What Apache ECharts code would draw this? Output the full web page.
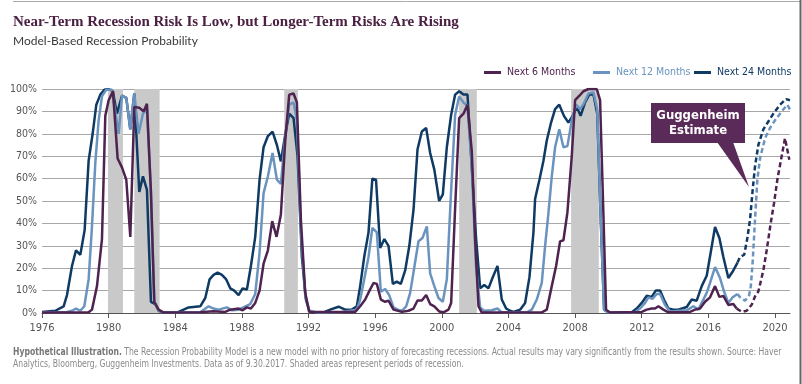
<!DOCTYPE html>
<html>
<head>
<meta charset="utf-8">
<script src="https://cdn.jsdelivr.net/npm/echarts@6/dist/echarts.min.js"></script>
<style>html,body{margin:0;padding:0;background:#fff;}#c{width:802px;height:384px;}</style>
</head>
<body>
<div id="c"></div>
<script>
// ---- data (year, probability %) ----
const tickYears = [1976,1980,1984,1988,1992,1996,2000,2004,2008,2012,2016,2020];
const recessions = [[1979.96,1980.86],[1981.54,1983.06],[1990.54,1991.36],[2001.04,2002.1],[2007.76,2009.42]];

const next24 = [[1976.0,0.5],[1976.8,1],[1977.3,3],[1977.5,8],[1977.8,21],[1978.04,28],[1978.3,26],[1978.56,37],[1978.8,68],[1979.04,80],[1979.26,93],[1979.5,97.5],[1979.74,99.7],[1980.0,100],[1980.25,99],[1980.5,89],[1980.8,97],[1981.06,96],[1981.3,82],[1981.54,98],[1981.84,54],[1982.06,61],[1982.3,55],[1982.54,5],[1982.8,4],[1983.0,1],[1983.3,0.2],[1984.1,0.2],[1984.5,1.5],[1984.8,2.5],[1985.5,3],[1985.8,6.7],[1986.06,15],[1986.3,17],[1986.54,18],[1986.8,17],[1987.06,15],[1987.3,11],[1987.54,10],[1987.8,8],[1988.04,11],[1988.3,10.5],[1988.54,21],[1988.8,34],[1989.06,59.5],[1989.3,74],[1989.56,79],[1989.84,81],[1990.1,75],[1990.34,67.7],[1990.6,79.6],[1990.84,89],[1991.1,87],[1991.34,70],[1991.6,25],[1991.84,6],[1992.04,1],[1992.3,0.2],[1992.9,0.3],[1993.3,1.5],[1993.8,2.8],[1994.2,1.5],[1994.6,1.5],[1994.9,3],[1995.1,12],[1995.34,25],[1995.6,36],[1995.83,60],[1996.05,59.5],[1996.3,29],[1996.55,33],[1996.8,30],[1997.06,13],[1997.3,14],[1997.54,13],[1997.8,19],[1998.05,30],[1998.3,46],[1998.54,73],[1998.8,81],[1999.06,82.6],[1999.3,71.4],[1999.55,64],[1999.84,50],[2000.06,53],[2000.3,74],[2000.56,88.5],[2000.8,97.5],[2001.04,99],[2001.3,97.5],[2001.54,97.5],[2001.8,65],[2002.05,34],[2002.3,11],[2002.54,12.5],[2002.8,11],[2003.04,15.6],[2003.34,21],[2003.6,6],[2003.86,2],[2004.1,1],[2004.3,0.5],[2004.7,1.5],[2005.0,4.5],[2005.26,16],[2005.5,36],[2005.6,51],[2005.86,59.5],[2006.1,68],[2006.3,77],[2006.54,84.5],[2006.8,91],[2007.05,93],[2007.33,88],[2007.6,85],[2007.85,88],[2008.1,92],[2008.33,88],[2008.6,94],[2008.85,97.5],[2009.1,97.5],[2009.33,89],[2009.53,44],[2009.74,1.5],[2010.0,0.2],[2011.4,0.3],[2011.7,2],[2012.0,4.5],[2012.3,7.7],[2012.6,7.2],[2012.84,10],[2013.1,10],[2013.33,6],[2013.6,2],[2013.9,1.5],[2014.2,1.5],[2014.7,2.7],[2015.0,6],[2015.3,5.5],[2015.6,12],[2015.9,16.6],[2016.14,27],[2016.4,38.4],[2016.66,33.5],[2016.9,25],[2017.2,15.6],[2017.5,19],[2017.75,22.5]];
const next24Est = [[2017.75,22.5],[2017.9,25],[2018.15,26],[2018.33,33],[2018.5,41.6],[2018.66,55],[2018.8,65.5],[2019.0,75],[2019.3,82],[2019.6,85.5],[2019.9,89],[2020.3,93],[2020.66,95.5],[2020.9,95]];

const next12 = [[1976.0,0.3],[1977.5,0.5],[1977.8,1],[1978.04,2],[1978.3,1],[1978.54,3],[1978.8,15],[1979.0,38.7],[1979.2,67],[1979.4,86],[1979.6,96.7],[1979.86,99.7],[1980.2,99.7],[1980.6,80],[1980.8,97],[1981.06,96],[1981.3,82],[1981.54,98],[1981.8,80],[1982.06,89],[1982.3,91],[1982.54,54],[1982.74,5],[1983.0,1],[1983.3,0.2],[1985.5,0.3],[1986.0,3],[1986.3,2],[1986.6,1.5],[1987.1,2.5],[1987.4,1.2],[1987.8,1.5],[1988.5,4],[1988.8,8.5],[1989.06,27],[1989.3,53.5],[1989.56,61],[1989.84,71.4],[1990.1,59.5],[1990.34,57.6],[1990.6,79],[1990.84,93],[1991.1,94],[1991.3,86],[1991.54,37],[1991.8,8],[1992.04,1],[1992.5,0.2],[1994.0,0.5],[1994.9,1.5],[1995.1,6],[1995.34,15],[1995.6,25],[1995.83,38],[1996.1,36],[1996.34,9.5],[1996.6,10.7],[1996.84,8],[1997.1,2.5],[1997.35,1.5],[1997.6,1],[1997.86,3],[1998.1,9],[1998.36,21],[1998.6,32],[1998.84,33.5],[1999.1,38.7],[1999.3,17.7],[1999.55,12],[1999.8,6.7],[2000.06,5],[2000.3,15],[2000.54,52],[2000.8,88.5],[2001.04,96.7],[2001.3,94],[2001.54,92.5],[2001.8,65],[2002.05,21],[2002.3,2.5],[2002.54,1],[2003.0,1.2],[2003.34,2],[2003.6,0.3],[2005.1,0.3],[2005.4,1.5],[2005.7,6],[2006.0,13.4],[2006.2,30],[2006.4,44.6],[2006.6,61],[2006.8,74],[2007.05,82],[2007.3,74],[2007.54,74.5],[2007.8,86],[2008.06,93],[2008.3,91],[2008.54,93.7],[2008.8,98],[2009.1,98.5],[2009.33,91],[2009.53,44],[2009.74,1.5],[2010.0,0.2],[2011.6,0.3],[2011.9,2],[2012.2,4.5],[2012.4,7],[2012.64,6.3],[2012.9,8.5],[2013.1,8.5],[2013.4,3.6],[2013.7,0.7],[2014.7,1.2],[2015.1,3],[2015.4,1.5],[2015.6,4.5],[2015.9,9],[2016.1,13.4],[2016.4,20.5],[2016.7,15.6],[2016.94,9.6],[2017.2,4.5],[2017.46,7],[2017.75,8.5]];
const next12Est = [[2017.75,8.5],[2017.9,7],[2018.2,5.5],[2018.45,8],[2018.55,12],[2018.66,23],[2018.8,41.6],[2018.94,59.5],[2019.1,69],[2019.4,78],[2019.7,82.6],[2020.0,86],[2020.4,90],[2020.74,93],[2020.9,90.8]];

const next6 = [[1976.0,0.2],[1978.8,0.3],[1979.0,1.5],[1979.3,12],[1979.6,33],[1979.8,88],[1980.0,95],[1980.26,99],[1980.54,69],[1980.8,65],[1981.06,59.5],[1981.3,34],[1981.54,92],[1981.84,91.6],[1982.1,90],[1982.3,93.4],[1982.54,53.7],[1982.74,5],[1983.0,1.5],[1983.3,0.2],[1985.5,0.3],[1986.3,0.8],[1987.0,0.5],[1987.3,1.5],[1987.8,2],[1988.04,1.2],[1988.3,2.5],[1988.54,2],[1988.8,4.5],[1989.06,10],[1989.3,22],[1989.56,28],[1989.82,41],[1990.08,34],[1990.34,44],[1990.6,77],[1990.84,97.5],[1991.1,98],[1991.3,94],[1991.54,41.6],[1991.8,9],[1992.04,0.5],[1994.8,0.5],[1995.1,3],[1995.4,6],[1995.66,10],[1995.9,13.4],[1996.1,13],[1996.34,6],[1996.6,5],[1996.8,5.5],[1997.1,1.5],[1997.6,0.5],[1998.0,1],[1998.3,2],[1998.54,5.6],[1998.8,5.6],[1999.06,8],[1999.3,4],[1999.55,3],[1999.84,0.7],[2000.1,0.3],[2000.4,1.5],[2000.56,4.5],[2000.8,47],[2001.04,87],[2001.3,89],[2001.54,93],[2001.8,72],[2002.0,33],[2002.2,3],[2002.4,0.2],[2006.0,0.3],[2006.3,1.5],[2006.6,12],[2006.86,21],[2007.1,32],[2007.3,32.5],[2007.54,45],[2007.8,70],[2008.0,95],[2008.26,97],[2008.5,99],[2008.8,100],[2009.3,100],[2009.5,95],[2009.7,44],[2009.86,1.5],[2010.1,0.2],[2012.0,0.5],[2012.3,1.5],[2012.6,2],[2012.8,2],[2013.0,3],[2013.3,1.5],[2013.6,0.3],[2014.9,0.5],[2015.2,1.5],[2015.5,2],[2015.8,5],[2016.1,7],[2016.4,12],[2016.66,7.2],[2016.9,7.6],[2017.2,3.6],[2017.5,4],[2017.7,2]];
const next6Est = [[2017.7,2],[2018.0,0.5],[2018.3,1],[2018.6,3.7],[2018.8,7.4],[2019.0,9.6],[2019.3,19],[2019.5,28],[2019.74,40],[2019.94,49],[2020.14,59.5],[2020.4,70],[2020.6,78],[2020.86,68.4]];

const names = ['Next 6 Months','Next 12 Months','Next 24 Months'];
const colors = ['#4f2350','#6a93bf','#0f3a64'];

// ---- chart ----
const NARROW = "'DejaVu Sans Condensed','Liberation Sans Narrow',sans-serif";
const chart = echarts.init(document.getElementById('c'), null, {renderer:'canvas'});

function lineSeries(name, data, color, dashed, z) {
  return {
    name: name, type: 'line', data: data, showSymbol: false, symbol: 'none',
    smooth: false, z: z, animation: false,
    lineStyle: {color: color, width: 2.5, type: dashed ? [5,3] : 'solid'},
    itemStyle: {color: color}
  };
}

const legendX = [484, 593, 694];
const legends = legendX.map((x, i) => ({
  data: [names[i]], left: x, top: 67, icon: 'rect', itemWidth: 17, itemHeight: 3,
  itemGap: 0, padding: 0,
  textStyle: {color: colors[i], fontFamily: NARROW, fontSize: 10.5, padding: [0,0,0,1]}
}));

chart.setOption({
  animation: false,
  title: [
    {text: 'Near-Term Recession Risk Is Low, but Longer-Term Risks Are Rising', left: 13, top: 15,
     padding: 0, textStyle: {fontFamily: "'Liberation Serif',serif", fontWeight: 'bold', fontSize: 15, color: '#4b2142'}},
    {text: 'Model-Based Recession Probability', left: 13, top: 35, padding: 0,
     textStyle: {fontFamily: "'Lato','Open Sans',sans-serif", fontWeight: 'normal', fontSize: 12, color: '#3a3a3a'}}
  ],
  legend: legends,
  grid: {left: 42, right: 12, top: 89, bottom: 71, containLabel: false},
  xAxis: {
    type: 'value', min: 1976, max: 2020.9,
    axisLine: {show: true, lineStyle: {color: '#555', width: 1}},
    axisTick: {show: true, customValues: tickYears, length: 5, lineStyle: {color: '#555'}},
    axisLabel: {customValues: tickYears, color: '#555', fontFamily: NARROW, fontSize: 11, margin: 10,
                formatter: v => String(v)},
    splitLine: {show: false}
  },
  yAxis: {
    type: 'value', min: 0, max: 100, interval: 10,
    axisLine: {show: false}, axisTick: {show: false},
    axisLabel: {formatter: '{value}%', color: '#555', fontFamily: NARROW, fontSize: 10.5, margin: 5},
    splitLine: {lineStyle: {color: '#a8a8a8', width: 1}}
  },
  series: [
    {type: 'line', name: 'recessions', data: [], z: 1, silent: true,
     markArea: {silent: true, itemStyle: {color: '#c9c9c9'},
       data: recessions.map(r => [{xAxis: r[0], yAxis: 0}, {xAxis: r[1], yAxis: 100}])}},
    lineSeries(names[2], next24, colors[2], false, 3),
    lineSeries(names[1], next12, colors[1], false, 4),
    lineSeries(names[0], next6, colors[0], false, 5),
    lineSeries(names[2] + ' est', next24Est, colors[2], true, 3),
    lineSeries(names[1] + ' est', next12Est, colors[1], true, 4),
    lineSeries(names[0] + ' est', next6Est, colors[0], true, 5)
  ],
  graphic: [
    {type: 'line', shape: {x1: 13, y1: 1.5, x2: 800, y2: 1.5}, style: {stroke: '#aaa', lineWidth: 1}},
    {type: 'line', shape: {x1: 800.5, y1: 0, x2: 800.5, y2: 384}, style: {stroke: '#666', lineWidth: 2}},
    {type: 'polygon', shape: {points: [[717,142],[733,142],[749,187]]}, style: {fill: '#5a2a58'}, z: 10},
    {type: 'rect', shape: {x: 651, y: 103, width: 94, height: 40}, style: {fill: '#5a2a58'}, z: 10},
    {type: 'text', x: 698, y: 123, z: 11, style: {text: 'Guggenheim\nEstimate', fill: '#fff', align: 'center', verticalAlign: 'middle',
      font: "bold 13px " + NARROW, lineHeight: 15}},
    {type: 'text', x: 13, y: 352, scaleX: 0.855, style: {
      text: '{b|Hypothetical Illustration.} The Recession Probability Model is a new model with no prior history of forecasting recessions. Actual results may vary significantly from the results shown. Source: Haver',
      rich: {b: {fontWeight: 'bold', fill: '#777', fontFamily: NARROW, fontSize: 10}},
      fill: '#8a8a8a', font: "10px " + NARROW, verticalAlign: 'middle'}},
    {type: 'text', x: 13, y: 364, scaleX: 0.855, style: {
      text: 'Analytics, Bloomberg, Guggenheim Investments. Data as of 9.30.2017. Shaded areas represent periods of recession.',
      fill: '#8a8a8a', font: "10px " + NARROW, verticalAlign: 'middle'}}
  ]
});
</script>
</body>
</html>
